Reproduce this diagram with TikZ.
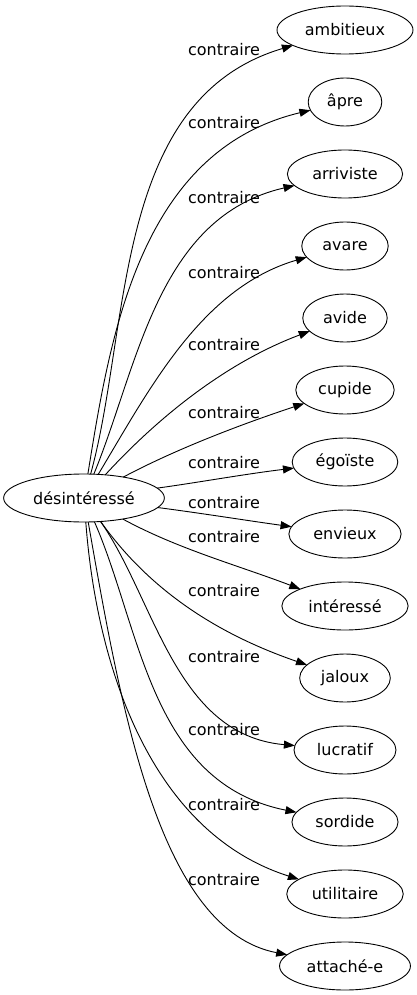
\documentclass[tikz,border=0pt]{standalone}
\usepackage{fontspec}
\setmainfont{DejaVu Sans}
\usetikzlibrary{positioning, arrows.meta, shapes.geometric}

\begin{document}
\begin{tikzpicture}[
    x=1pt, y=1pt,
    node distance=24pt,
    word/.style={draw, ellipse, inner xsep=8pt, minimum height=48pt, outer sep=0pt, line width=0.9pt, font=\fontsize{16}{19}\selectfont},
    rel/.style={font=\fontsize{16}{19}\selectfont},
    arr/.style={-{Triangle[length=11pt, width=8pt]}, line width=0.9pt}
]
    \useasboundingbox (0,0) rectangle (417,-995);

    \node[word, inner xsep=6pt] (desinteresse) at (84,-498) {désintéressé};

    \node[word] (ambitieux) at (345,-30) {ambitieux};
    \node[word] (apre) [below=of ambitieux] {âpre};
    \node[word] (arriviste) [below=of apre] {arriviste};
    \node[word] (avare) [below=of arriviste] {avare};
    \node[word] (avide) [below=of avare] {avide};
    \node[word] (cupide) [below=of avide] {cupide};
    \node[word] (egoiste) [below=of cupide] {égoïste};
    \node[word] (envieux) [below=of egoiste] {envieux};
    \node[word] (interesse) [below=of envieux] {intéressé};
    \node[word] (jaloux) [below=of interesse] {jaloux};
    \node[word] (lucratif) [below=of jaloux] {lucratif};
    \node[word] (sordide) [below=of lucratif] {sordide};
    \node[word] (utilitaire) [below=of sordide] {utilitaire};
    \node[word] (attache) [below=of utilitaire] {attaché-e};

    \node[rel] (rel1) at (224,-50) {contraire};
    \node[rel] (rel2) at (224,-123) {contraire};
    \node[rel] (rel3) at (224,-198) {contraire};
    \node[rel] (rel4) at (224,-273) {contraire};
    \node[rel] (rel5) at (224,-345) {contraire};
    \node[rel] (rel6) at (224,-413) {contraire};
    \node[rel] (rel7) at (224,-463) {contraire};
    \node[rel] (rel8) at (224,-503) {contraire};
    \node[rel] (rel9) at (224,-537) {contraire};
    \node[rel] (rel10) at (224,-591) {contraire};
    \node[rel] (rel11) at (224,-657) {contraire};
    \node[rel] (rel12) at (224,-730) {contraire};
    \node[rel] (rel13) at (224,-805) {contraire};
    \node[rel] (rel14) at (224,-880) {contraire};

    \draw[arr] (desinteresse) .. controls (131,-328) and (112,-99) .. (ambitieux);
    \draw[arr] (desinteresse) .. controls (110,-337) and (139,-151) .. (apre);
    \draw[arr] (desinteresse) .. controls (138,-367) and (157,-217) .. (arriviste);
    \draw[arr] (desinteresse) .. controls (149,-390) and (201,-288) .. (avare);
    \draw[arr] (desinteresse) .. controls (162,-413) and (230,-361) .. (avide);
    \draw[arr] (desinteresse) .. controls (178,-448) and (245,-423) .. (cupide);
    \draw[arr] (desinteresse) .. controls (195,-483) and (245,-474) .. (egoiste);
    \draw[arr] (desinteresse) .. controls (200,-513) and (250,-521) .. (envieux);
    \draw[arr] (desinteresse) .. controls (178,-549) and (237,-565) .. (interesse);
    \draw[arr] (desinteresse) .. controls (152,-594) and (223,-636) .. (jaloux);
    \draw[arr] (desinteresse) .. controls (155,-599) and (175,-735) .. (lucratif);
    \draw[arr] (desinteresse) .. controls (141,-628) and (150,-783) .. (sordide);
    \draw[arr] (desinteresse) .. controls (96,-659) and (147,-831) .. (utilitaire);
    \draw[arr] (desinteresse) .. controls (122,-715) and (160,-930) .. (attache);

\end{tikzpicture}
\end{document}
